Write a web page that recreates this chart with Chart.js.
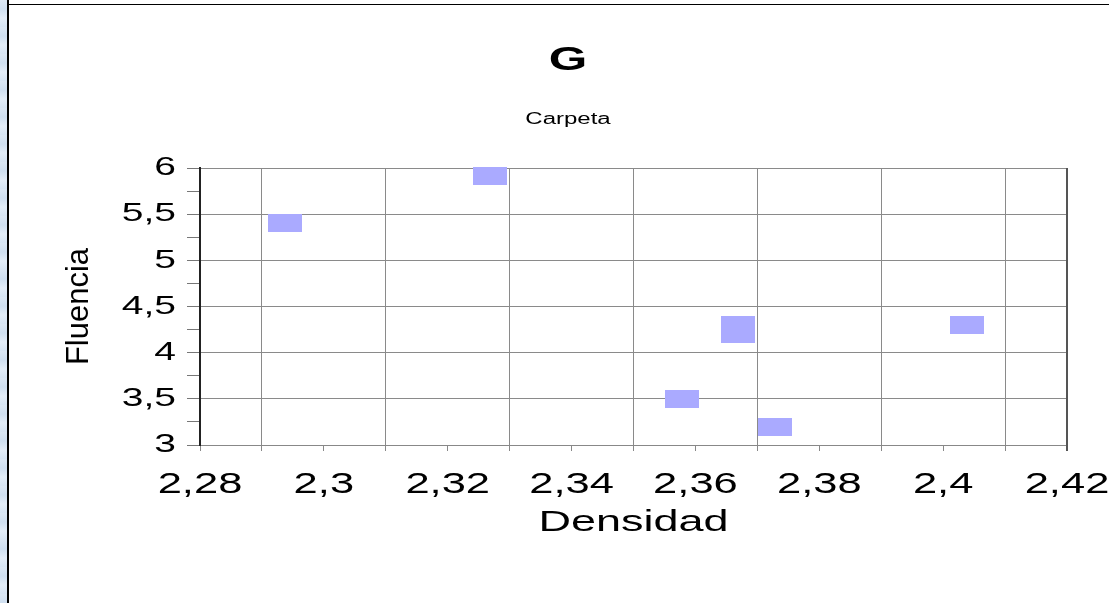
<!DOCTYPE html>
<html>
<head>
<meta charset="utf-8">
<script src="https://cdn.jsdelivr.net/npm/chart.js@4/dist/chart.umd.min.js"></script>
<style>
  html, body { margin: 0; padding: 0; background: #fff; overflow: hidden; }
  body { width: 1109px; height: 603px; position: relative; }
  #strip {
    position: absolute; left: 0; top: 0; width: 7px; height: 603px;
    background: repeating-linear-gradient(180deg, #dbe7f4 0px, #cfdff0 9px, #e3edf8 18px, #d6e4f3 27px);
  }
  #vline { position: absolute; left: 7px; top: 0; width: 2px; height: 603px; background: #000; }
  #hline { position: absolute; left: 9px; top: 4px; width: 1100px; height: 1px; background: #000; }
  #wrap { position: absolute; left: 9px; top: 6px; width: 1100px; height: 597px; }
</style>
</head>
<body>
<div id="strip"></div>
<div id="vline"></div>
<div id="hline"></div>
<div id="wrap"><canvas id="myChart" width="1100" height="597"></canvas></div>
<script>
// data
var densidad = [2.2938, 2.3269, 2.3669, 2.3669, 2.3579, 2.3729, 2.4039];
var fluencia = [5.40, 5.91, 4.30, 4.20, 3.50, 3.195, 4.30];
var xTickLabels = ["2,28", "2,3", "2,32", "2,34", "2,36", "2,38", "2,4", "2,42"];
var yTickLabels = ["3", "3,5", "4", "4,5", "5", "5,5", "6"];

var FONT = "'Liberation Sans', Arial, sans-serif";
var canvas = document.getElementById("myChart");
var ctx = canvas.getContext("2d");

// the original renders horizontal text wide, so stretch it sideways
var SX = 1.5;
var rawFill = ctx.fillText;
var rawMeasure = ctx.measureText;
ctx.fillText = function (text, x, y) {
    var m = this.getTransform();
    if (Math.abs(m.b) > 1e-6) {
        return rawFill.call(this, text, x, y);
    }
    this.save();
    this.translate(x, y);
    this.scale(SX, 1);
    rawFill.call(this, text, 0, 0);
    this.restore();
};
ctx.measureText = function (text) {
    var r = rawMeasure.call(this, text);
    return {
        width: r.width * SX,
        actualBoundingBoxAscent: r.actualBoundingBoxAscent,
        actualBoundingBoxDescent: r.actualBoundingBoxDescent,
        actualBoundingBoxLeft: r.actualBoundingBoxLeft * SX,
        actualBoundingBoxRight: r.actualBoundingBoxRight * SX,
    };
};

function box(w, h) {
    var c = document.createElement("canvas");
    c.width = w;
    c.height = h;
    var g = c.getContext("2d");
    g.fillStyle = "#aaaaff";
    g.fillRect(0, 0, w, h);
    return c;
}
var marker = box(34, 18);

var points = densidad.map(function (d, i) {
    return { x: d, y: fluencia[i] };
});

function xIndex(v) {
    return Math.round((v - 2.28) * 100);
}
function yIndex(v) {
    return Math.round((v - 3) * 4);
}

var frame = {
    id: "frame",
    afterDraw: function (chart) {
        var a = chart.chartArea;
        var c = chart.ctx;
        c.save();
        c.strokeStyle = "#555";
        c.lineWidth = 2;
        c.beginPath();
        c.moveTo(a.right, a.top);
        c.lineTo(a.right, a.bottom + 6);
        c.stroke();
        c.restore();
    },
};

Chart.defaults.color = "#000";
Chart.defaults.font.family = FONT;

var myChart = new Chart(ctx, {
    type: "scatter",
    data: {
        datasets: [
            {
                data: points,
                pointStyle: marker,
                backgroundColor: "#aaaaff",
                borderWidth: 0,
                clip: false,
            },
        ],
    },
    options: {
        responsive: false,
        animation: false,
        events: [],
        layout: { padding: { left: 60, right: 42, top: 0, bottom: 0 } },
        plugins: {
            legend: { display: false },
            tooltip: { enabled: false },
            title: {
                display: true,
                text: "G",
                color: "#000",
                font: { size: 33, weight: "bold", family: FONT, lineHeight: 1.2 },
                padding: { top: 34.7, bottom: 0 },
            },
            subtitle: {
                display: true,
                text: "Carpeta",
                color: "#000",
                font: { size: 16, family: FONT, lineHeight: 1.2 },
                padding: { top: 30.1, bottom: 38.4 },
            },
        },
        scales: {
            x: {
                type: "linear",
                min: 2.28,
                max: 2.42,
                afterFit: function (scale) {
                    scale.height = 158;
                    scale.paddingLeft = 0;
                    scale.paddingRight = 0;
                },
                ticks: {
                    stepSize: 0.01,
                    autoSkip: false,
                    maxRotation: 0,
                    minRotation: 0,
                    padding: 17,
                    font: { size: 29, family: FONT },
                    callback: function (value) {
                        var i = xIndex(value);
                        return i % 2 === 0 ? xTickLabels[i / 2] : "";
                    },
                },
                grid: {
                    tickLength: 6,
                    tickColor: "#888",
                    lineWidth: 1,
                    color: function (c) {
                        var i = xIndex(c.tick.value);
                        return i % 2 === 1 ? "#8a8a8a" : "rgba(0,0,0,0)";
                    },
                },
                border: { color: "#888", width: 1 },
                title: {
                    display: true,
                    text: "Densidad",
                    color: "#000",
                    font: { size: 30, family: FONT, lineHeight: 1.2 },
                    padding: { top: 0, bottom: 62 },
                },
            },
            y: {
                type: "linear",
                min: 3,
                max: 6,
                afterFit: function (scale) {
                    scale.width = 131;
                    scale.paddingTop = 0;
                    scale.paddingBottom = 0;
                },
                ticks: {
                    stepSize: 0.25,
                    autoSkip: false,
                    padding: 11,
                    font: { size: 26, family: FONT },
                    callback: function (value) {
                        var i = yIndex(value);
                        return i % 2 === 0 ? yTickLabels[i / 2] : "";
                    },
                },
                grid: {
                    tickLength: 13,
                    tickColor: "#777",
                    lineWidth: 1,
                    color: function (c) {
                        var i = yIndex(c.tick.value);
                        return i % 2 === 0 ? "#8a8a8a" : "rgba(0,0,0,0)";
                    },
                },
                border: { color: "#222", width: 2 },
                title: {
                    display: true,
                    text: "Fluencia",
                    color: "#000",
                    font: { size: 31, family: FONT, lineHeight: 0.7 },
                    padding: { top: 0, bottom: 0 },
                },
            },
        },
    },
    plugins: [frame],
});
</script>
</body>
</html>
